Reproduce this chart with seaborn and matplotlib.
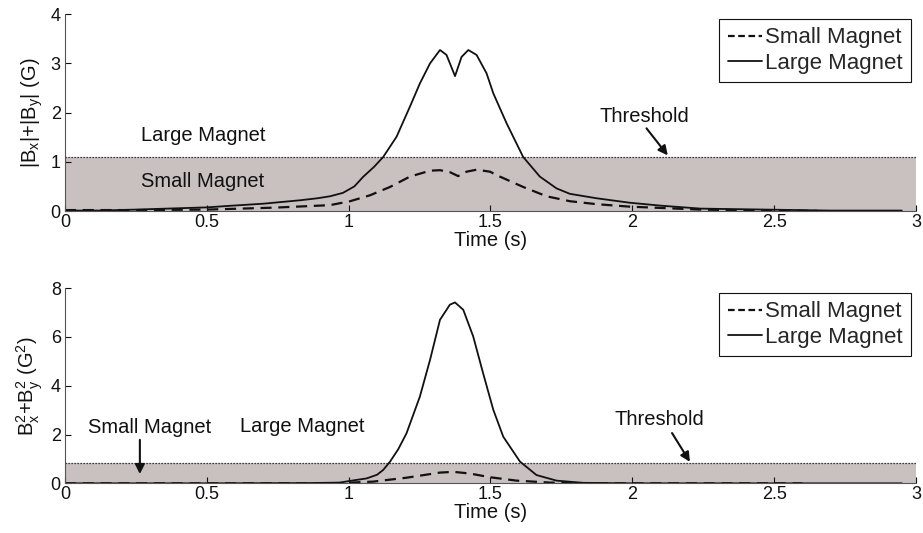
import matplotlib
matplotlib.use("Agg")
import matplotlib.pyplot as plt
import numpy as np
import pandas as pd
import seaborn as sns

# ---- |Bx|+|By| (G) ----
t_large_abs = [0.00, 0.12, 0.25, 0.36, 0.50, 0.59, 0.70, 0.83, 0.89, 0.934, 0.98, 1.02,
               1.052, 1.09, 1.122, 1.169, 1.216, 1.251, 1.287, 1.322, 1.345, 1.375,
               1.398, 1.422, 1.451, 1.486, 1.51, 1.557, 1.615, 1.674, 1.733, 1.78,
               1.874, 1.99, 2.10, 2.24, 2.47, 2.70, 2.95]
b_large_abs = [0.01, 0.01, 0.03, 0.05, 0.075, 0.11, 0.15, 0.22, 0.26, 0.30, 0.37, 0.50,
               0.70, 0.90, 1.10, 1.51, 2.12, 2.59, 3.00, 3.27, 3.17, 2.74,
               3.13, 3.27, 3.17, 2.80, 2.39, 1.78, 1.10, 0.70, 0.46, 0.35,
               0.26, 0.17, 0.11, 0.05, 0.03, 0.01, 0.01]

t_small_abs = [0.00, 0.25, 0.50, 0.74, 0.934, 1.005, 1.075, 1.146, 1.216, 1.287, 1.322,
               1.357, 1.386, 1.416, 1.451, 1.498, 1.533, 1.615, 1.698, 1.78, 1.874,
               1.99, 2.24, 2.45, 2.65]
b_small_abs = [0.02, 0.02, 0.03, 0.07, 0.12, 0.20, 0.32, 0.49, 0.70, 0.82, 0.83,
               0.79, 0.71, 0.80, 0.84, 0.80, 0.70, 0.49, 0.30, 0.20, 0.14,
               0.09, 0.03, 0.01, 0.005]

# ---- Bx^2+By^2 (G^2) ----
t_large_sq = [0.00, 0.50, 0.85, 0.969, 1.005, 1.063, 1.10, 1.122, 1.146, 1.175, 1.204,
              1.251, 1.287, 1.322, 1.357, 1.375, 1.404, 1.439, 1.474, 1.51, 1.545,
              1.604, 1.662, 1.733, 1.827, 2.00, 2.95]
b_large_sq = [0.00, 0.00, 0.01, 0.03, 0.10, 0.20, 0.35, 0.55, 0.89, 1.40, 2.05,
              3.55, 5.06, 6.70, 7.32, 7.41, 7.11, 6.02, 4.51, 3.01, 1.91,
              0.89, 0.34, 0.11, 0.02, 0.00, 0.00]

t_small_sq = [0.00, 0.90, 0.969, 1.087, 1.204, 1.322, 1.37, 1.428, 1.498, 1.592, 1.71,
              1.85, 2.60]
b_small_sq = [0.00, 0.00, 0.01, 0.07, 0.23, 0.44, 0.47, 0.40, 0.25, 0.11, 0.03,
              0.00, 0.00]

threshold_abs = 1.1
threshold_sq = 0.85

x_ticks = [0, 0.5, 1, 1.5, 2, 2.5, 3]
x_tick_labels = ["0", "0.5", "1", "1.5", "2", "2.5", "3"]
y_ticks_abs = [0, 1, 2, 3, 4]
y_ticks_sq = [0, 2, 4, 6, 8]

sns.set_style("ticks", {"xtick.direction": "in", "ytick.direction": "in"})
plt.rcParams["font.family"] = ["Liberation Sans", "DejaVu Sans"]
plt.rcParams["mathtext.default"] = "regular"

SHADE = "#c9c0c0"
INK = "#111111"

fig = plt.figure(figsize=(9.23, 5.33), dpi=100)
ax1 = fig.add_axes([0.0704, 0.604, 0.922, 0.3696])
ax2 = fig.add_axes([0.0704, 0.0932, 0.922, 0.3664])


def draw_panel(ax, t_small, b_small, t_large, b_large, thr, yticks, ylabel):
    ax.fill_between([0, 3], [0, 0], [thr, thr], color=SHADE, linewidth=0, zorder=0)
    ax.plot([0, 3], [thr, thr], color=INK, linewidth=0.9, dashes=(1, 1.4), zorder=1)
    small = pd.DataFrame({"Time": t_small, "B": b_small})
    large = pd.DataFrame({"Time": t_large, "B": b_large})
    sns.lineplot(data=small, x="Time", y="B", ax=ax, color=INK, linewidth=1.6,
                 dashes=False, sort=False, estimator=None, label="Small Magnet",
                 zorder=3)
    ax.lines[-1].set_dashes((5, 3))
    sns.lineplot(data=large, x="Time", y="B", ax=ax, color=INK, linewidth=1.3,
                 sort=False, estimator=None, label="Large Magnet", zorder=3)
    ax.set_xlim(0, 3)
    ax.set_ylim(yticks[0], yticks[-1])
    ax.set_xticks(x_ticks)
    ax.set_xticklabels(x_tick_labels)
    ax.set_yticks(yticks)
    ax.tick_params(axis="both", labelsize=13, length=4, width=0.8, colors=INK,
                   pad=2)
    ax.tick_params(axis="y", pad=3)
    for side in ("top", "right"):
        ax.spines[side].set_visible(False)
    for side in ("left", "bottom"):
        ax.spines[side].set_color("#555555")
        ax.spines[side].set_linewidth(0.8)
        ax.spines[side].set_zorder(4)
    ax.set_xlabel("Time (s)", fontsize=14.5, labelpad=0, color=INK)
    ax.set_ylabel(ylabel, fontsize=14.5, labelpad=4, color=INK)
    ax.patch.set_alpha(0)
    leg = ax.legend(loc="upper right", bbox_to_anchor=(0.994, 0.975), fontsize=16,
                    handlelength=1.55, handletextpad=0.12, borderpad=0.38,
                    labelspacing=0.2, borderaxespad=0, fancybox=False,
                    framealpha=1, edgecolor=INK)
    leg.get_frame().set_linewidth(0.8)
    for line in leg.get_lines():
        line.set_color(INK)


draw_panel(ax1, t_small_abs, b_small_abs, t_large_abs, b_large_abs,
           threshold_abs, y_ticks_abs, "|B$_x$|+|B$_y$| (G)")
draw_panel(ax2, t_small_sq, b_small_sq, t_large_sq, b_large_sq,
           threshold_sq, y_ticks_sq, "B$_x^2$+B$_y^2$ (G$^2$)")
ax1.get_legend().get_lines()[0].set_dashes((3, 1.6))
ax2.get_legend().get_lines()[0].set_dashes((3, 1.6))

txt = dict(fontsize=14.5, color=INK, ha="center", va="center")
arrow = dict(arrowstyle="-|>", color=INK, lw=1.5, mutation_scale=14,
             shrinkA=0, shrinkB=0)

# upper panel annotations
ax1.text(0.486, 1.54, "Large Magnet", **txt)
ax1.text(0.486, 0.61, "Small Magnet", **txt)
ax1.text(2.044, 1.93, "Threshold", **txt)
ax1.annotate("", xy=(2.125, 1.13), xytext=(2.05, 1.68), arrowprops=arrow)

# lower panel annotations
ax2.text(0.30, 2.27, "Small Magnet", **txt)
ax2.annotate("", xy=(0.264, 0.38), xytext=(0.264, 1.78), arrowprops=arrow)
ax2.text(0.835, 2.31, "Large Magnet", **txt)
ax2.text(2.097, 2.63, "Threshold", **txt)
ax2.annotate("", xy=(2.203, 0.88), xytext=(2.14, 2.06), arrowprops=arrow)

fig.savefig("out.png", dpi=100)
